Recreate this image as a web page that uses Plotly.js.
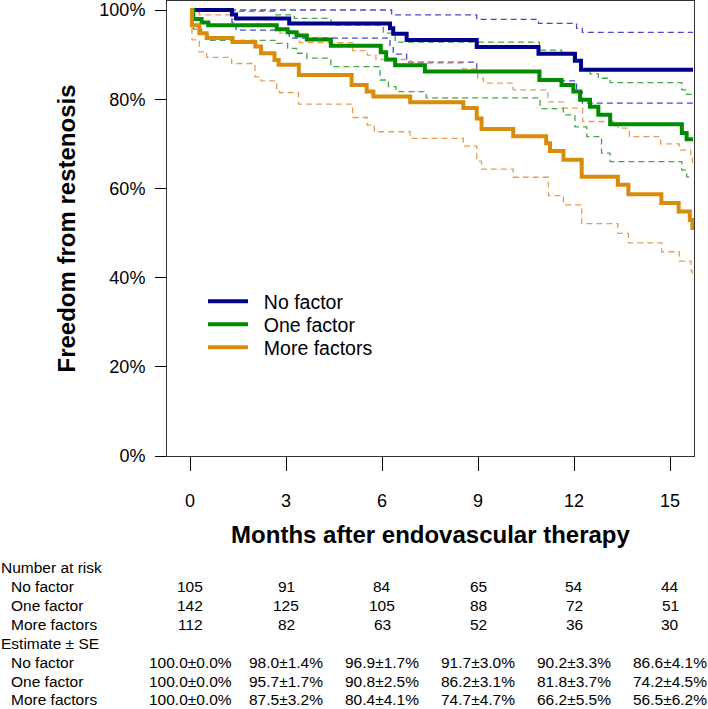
<!DOCTYPE html>
<html>
<head>
<meta charset="utf-8">
<script src="https://cdn.plot.ly/plotly-3.0.1.min.js"></script>
<style>
  html, body { margin: 0; padding: 0; background: #fff; }
  #chart { width: 708px; height: 709px; }
</style>
</head>
<body>
<div id="chart"></div>
<script>
// ---------------- Data ----------------
// No factor
const noFactorTime  = [0, 1.31, 1.44, 3.10, 6.25, 6.35, 6.77, 8.96, 10.89, 12.03, 12.22, 15.72];
const noFactorSurv  = [1.0, 0.990, 0.981, 0.970, 0.959, 0.947, 0.933, 0.917, 0.902, 0.886, 0.866, 0.866];
const noFactorUpperTime = [0, 6.30, 8.96, 10.89, 12.08, 12.26, 15.72];
const noFactorUpper     = [1.0, 0.989, 0.979, 0.970, 0.959, 0.950, 0.950];
const noFactorLowerTime = [0, 1.31, 1.44, 3.10, 6.25, 6.35, 6.77, 8.96, 10.89, 12.08, 12.26, 15.72];
const noFactorLower     = [1.0, 0.972, 0.955, 0.937, 0.918, 0.901, 0.883, 0.863, 0.841, 0.817, 0.791, 0.791];

// One factor
const oneFactorTime = [0, 0.10, 0.36, 0.57, 2.71, 3.05, 3.33, 3.65, 4.40, 5.96, 6.13, 6.41, 7.34, 10.92, 11.61, 11.98, 12.19, 12.50, 12.76, 13.13, 15.37, 15.52, 15.72];
const oneFactorSurv = [1.0, 0.980, 0.972, 0.966, 0.957, 0.950, 0.943, 0.934, 0.920, 0.905, 0.889, 0.876, 0.862, 0.843, 0.832, 0.817, 0.799, 0.783, 0.765, 0.744, 0.724, 0.710, 0.710];
const oneFactorUpperTime = [0, 0.36, 2.69, 3.26, 4.40, 6.04, 6.41, 10.92, 11.61, 11.98, 12.19, 12.50, 12.76, 13.13, 15.37, 15.52, 15.72];
const oneFactorUpper     = [1.0, 0.997, 0.989, 0.981, 0.966, 0.948, 0.928, 0.910, 0.903, 0.884, 0.868, 0.857, 0.847, 0.837, 0.821, 0.811, 0.811];
const oneFactorLowerTime = [0, 0.10, 0.36, 0.57, 2.71, 3.05, 3.33, 3.65, 4.40, 5.94, 6.20, 6.44, 7.38, 10.94, 11.67, 12.03, 12.40, 12.86, 13.13, 15.37, 15.52, 15.72];
const oneFactorLower     = [1.0, 0.957, 0.944, 0.932, 0.925, 0.914, 0.903, 0.892, 0.873, 0.843, 0.828, 0.817, 0.803, 0.779, 0.765, 0.738, 0.716, 0.679, 0.660, 0.641, 0.626, 0.626];

// More factors
const moreFactorsTime = [0, 0.06, 0.29, 0.52, 1.33, 2.04, 2.22, 2.64, 2.77, 3.40, 5.05, 5.52, 5.73, 6.88, 8.54, 8.96, 9.11, 10.10, 11.13, 11.25, 11.67, 12.24, 13.37, 13.70, 14.73, 15.27, 15.62, 15.70];
const moreFactorsSurv = [1.0, 0.966, 0.948, 0.937, 0.928, 0.918, 0.903, 0.888, 0.877, 0.854, 0.832, 0.817, 0.806, 0.793, 0.780, 0.757, 0.733, 0.717, 0.701, 0.684, 0.664, 0.626, 0.608, 0.587, 0.567, 0.548, 0.529, 0.507];
const moreFactorsUpperTime = [0, 0.06, 0.29, 1.30, 2.10, 2.71, 2.81, 3.42, 5.08, 5.54, 5.81, 6.88, 8.52, 8.99, 9.17, 10.10, 11.18, 11.67, 12.27, 13.37, 13.73, 14.71, 15.29, 15.65, 15.70];
const moreFactorsUpper     = [1.0, 0.995, 0.989, 0.979, 0.969, 0.957, 0.948, 0.927, 0.909, 0.899, 0.889, 0.881, 0.868, 0.847, 0.836, 0.821, 0.794, 0.780, 0.750, 0.735, 0.716, 0.700, 0.686, 0.670, 0.657];
const moreFactorsLowerTime = [0, 0.06, 0.29, 0.52, 1.30, 2.03, 2.22, 2.71, 2.79, 3.39, 5.08, 5.54, 5.76, 6.88, 8.54, 8.96, 9.11, 10.10, 11.20, 11.67, 12.24, 13.37, 13.70, 14.74, 15.29, 15.66, 15.70];
const moreFactorsLower     = [1.0, 0.933, 0.906, 0.894, 0.880, 0.850, 0.841, 0.824, 0.815, 0.789, 0.759, 0.742, 0.727, 0.712, 0.695, 0.661, 0.643, 0.625, 0.584, 0.563, 0.521, 0.499, 0.478, 0.458, 0.437, 0.415, 0.398];

// Axis ticks
const monthTicks = [0, 3, 6, 9, 12, 15];
const pctTicks = [0, 0.2, 0.4, 0.6, 0.8, 1.0];
const pctLabels = ['0%', '20%', '40%', '60%', '80%', '100%'];

// Table below the plot
const groupNames = ['No factor', 'One factor', 'More factors'];
const atRiskNo   = [105, 91, 84, 65, 54, 44];
const atRiskOne  = [142, 125, 105, 88, 72, 51];
const atRiskMore = [112, 82, 63, 52, 36, 30];
const estNo   = ['100.0±0.0%', '98.0±1.4%', '96.9±1.7%', '91.7±3.0%', '90.2±3.3%', '86.6±4.1%'];
const estOne  = ['100.0±0.0%', '95.7±1.7%', '90.8±2.5%', '86.2±3.1%', '81.8±3.7%', '74.2±4.5%'];
const estMore = ['100.0±0.0%', '87.5±3.2%', '80.4±4.1%', '74.7±4.7%', '66.2±5.5%', '56.5±6.2%'];

// ---------------- Styling ----------------
const FONT = '"Liberation Sans", Arial, Helvetica, sans-serif';
const C_BLUE = '#00008B', C_GREEN = '#008B00', C_ORANGE = '#D98B0B';
const C_BLUE_D = 'rgba(40,40,190,0.85)', C_GREEN_D = 'rgba(40,150,40,0.85)', C_ORANGE_D = 'rgba(225,150,60,0.9)';
const NBSP = '\u00a0\u00a0';

function solid(x, y, name, color, legendId) {
  return {x: x, y: y, name: NBSP + name, type: 'scatter', mode: 'lines', legend: legendId,
          line: {shape: 'hv', color: color, width: 4}, hoverinfo: 'skip'};
}
function dashed(x, y, color) {
  return {x: x, y: y, type: 'scatter', mode: 'lines', showlegend: false,
          line: {shape: 'hv', color: color, width: 1.3, dash: '6px,4px'}, hoverinfo: 'skip'};
}

const traces = [
  dashed(noFactorUpperTime, noFactorUpper, C_BLUE_D),
  dashed(noFactorLowerTime, noFactorLower, C_BLUE_D),
  dashed(oneFactorUpperTime, oneFactorUpper, C_GREEN_D),
  dashed(oneFactorLowerTime, oneFactorLower, C_GREEN_D),
  dashed(moreFactorsUpperTime, moreFactorsUpper, C_ORANGE_D),
  dashed(moreFactorsLowerTime, moreFactorsLower, C_ORANGE_D),
  solid(noFactorTime, noFactorSurv, groupNames[0], C_BLUE, 'legend'),
  solid(oneFactorTime, oneFactorSurv, groupNames[1], C_GREEN, 'legend2'),
  solid(moreFactorsTime, moreFactorsSurv, groupNames[2], C_ORANGE, 'legend3')
];

// Plot area in pixels: top 1, bottom 456 (height 455)
const PLOT_TOP = 1, PLOT_BOTTOM = 456, PLOT_H = PLOT_BOTTOM - PLOT_TOP;
const PLOT_LEFT = 167, PLOT_W = 694 - 167;
function py(pix) { return (PLOT_BOTTOM - pix) / PLOT_H; }
function px(pix) { return (pix - PLOT_LEFT) / PLOT_W; }

const annotations = [];
const TFONT = {family: FONT, size: 15.5, color: '#000'};
const rowY = [567.5, 586.5, 605.5, 624.5, 644, 662.5, 681.5, 700];
function label(text, xpix, ypix) {
  annotations.push({text: text, xref: 'paper', yref: 'paper', x: px(xpix), y: py(ypix),
    xanchor: 'left', yanchor: 'middle', showarrow: false, font: TFONT, borderpad: 0});
}
function row(values, ypix) {
  values.forEach(function (v, i) {
    annotations.push({text: String(v), xref: 'x', yref: 'paper', x: monthTicks[i], y: py(ypix),
      xanchor: 'center', yanchor: 'middle', showarrow: false, font: TFONT, borderpad: 0});
  });
}
label('Number at risk', 0, rowY[0]);
label(groupNames[0], 10, rowY[1]); row(atRiskNo, rowY[1]);
label(groupNames[1], 10, rowY[2]); row(atRiskOne, rowY[2]);
label(groupNames[2], 10, rowY[3]); row(atRiskMore, rowY[3]);
label('Estimate ± SE', 0, rowY[4]);
label(groupNames[0], 10, rowY[5]); row(estNo, rowY[5]);
label(groupNames[1], 10, rowY[6]); row(estOne, rowY[6]);
label(groupNames[2], 10, rowY[7]); row(estMore, rowY[7]);

function legendAt(topPix) {
  return {x: px(203), y: py(topPix), xanchor: 'left', yanchor: 'top',
          bgcolor: 'rgba(0,0,0,0)', borderwidth: 0,
          font: {family: FONT, size: 19.5, color: '#000'}, itemwidth: 40};
}

const layout = {
  width: 708, height: 709,
  margin: {l: 167, r: 14, t: 1, b: 253, pad: 0},
  paper_bgcolor: '#fff', plot_bgcolor: '#fff',
  font: {family: FONT, color: '#000'},
  showlegend: true,
  legend: legendAt(282),
  legend2: legendAt(305),
  legend3: legendAt(328),
  xaxis: {
    range: [-0.72, 15.75], tickvals: monthTicks, ticktext: monthTicks.map(String),
    ticks: 'outside', ticklen: 14, tickwidth: 1, tickcolor: '#000',
    showline: true, mirror: true, linecolor: '#333', linewidth: 1,
    showgrid: false, zeroline: false, fixedrange: true,
    tickfont: {family: FONT, size: 18, color: '#000'}, ticklabelstandoff: 14,
    title: {text: '<b>Months after endovascular therapy</b>', font: {family: FONT, size: 24, color: '#000'}, standoff: 16}
  },
  yaxis: {
    range: [0, PLOT_H / 446], tickvals: pctTicks, ticktext: pctLabels,
    ticks: 'outside', ticklen: 11, tickwidth: 1, tickcolor: '#000',
    showline: true, mirror: true, linecolor: '#333', linewidth: 1,
    showgrid: false, zeroline: false, fixedrange: true,
    tickfont: {family: FONT, size: 18, color: '#000'}, ticklabelstandoff: 6,
    title: {text: '<b>Freedom from restenosis</b>', font: {family: FONT, size: 24, color: '#000'}, standoff: 16}
  },
  annotations: annotations
};

Plotly.newPlot('chart', traces, layout, {staticPlot: true, displayModeBar: false});
</script>
</body>
</html>
